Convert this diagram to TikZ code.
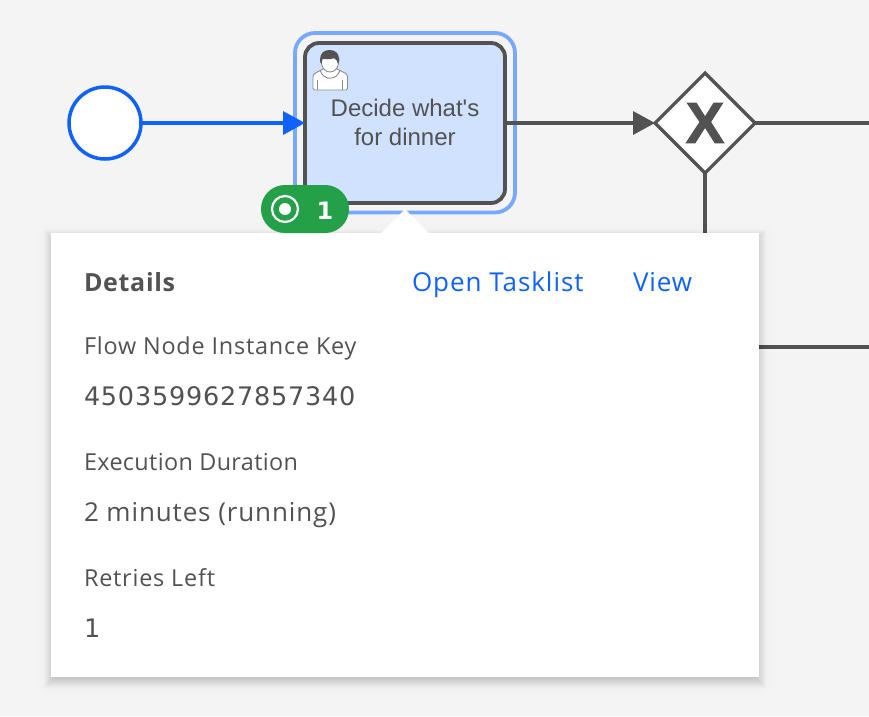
\documentclass[tikz,border=0pt]{standalone}
\usepackage{fontspec}
\usetikzlibrary{arrows.meta,shapes.geometric}
\setmainfont{Open Sans}
\newfontfamily\taskfont{Liberation Sans}
\newfontfamily\gatefont{Liberation Sans}[BoldFeatures={FakeBold=1.6}]
\newfontfamily\uifont[LetterSpace=3.4]{Open Sans}
\newfontfamily\uitight[LetterSpace=1.5]{Open Sans}
\newfontfamily\uilink[LetterSpace=3.7]{Open Sans}
\newfontfamily\uinum[LetterSpace=3.1]{DejaVu Sans}
\newfontfamily\uibold[LetterSpace=2.8]{Open Sans}
\newfontfamily\badgefont{DejaVu Sans}
\definecolor{bgc}{HTML}{F4F4F4}
\definecolor{ink}{HTML}{525252}
\definecolor{flowblue}{HTML}{0F62FE}
\definecolor{selblue}{HTML}{78A9FF}
\definecolor{taskfill}{HTML}{D0E2FF}
\definecolor{okgreen}{HTML}{24A148}
\tikzset{
  x=1pt,y=-1pt,
  flow/.style={draw=ink,line width=3.5pt},
  flowarrow/.style={flow,-{Triangle[length=22pt,width=23pt]}},
  activeflow/.style={draw=flowblue,line width=3.5pt,-{Triangle[length=22pt,width=23pt]}},
  ui/.style={anchor=base west,inner sep=0pt,outer sep=0pt,text=ink,font=\uifont\fontsize{23.4}{28}\selectfont},
  uival/.style={ui,font=\uifont\fontsize{26}{30}\selectfont},
  uidigits/.style={ui,font=\uinum\fontsize{25.5}{30}\selectfont},
  link/.style={ui,text=flowblue,font=\uilink\fontsize{26}{30}\selectfont},
  iconline/.style={draw=black!45,line width=.9pt},
}
\begin{document}
\begin{tikzpicture}
\useasboundingbox (0,0) rectangle (869,716);
\fill[bgc] (0,0) rectangle (869,716);
\coordinate (rightA) at (869,123);
\coordinate (rightB) at (869,347);
\coordinate (lowA) at (759,347);
\coordinate (gateDown) at (705,240);
% diagram
\node[circle,draw=flowblue,fill=white,line width=3.5pt,minimum size=72pt,inner sep=0pt,outer sep=0pt] (start) at (105,123) {};
\draw[draw=selblue,line width=3.8pt,rounded corners=20pt] (295,33) rectangle (515,212.5);
\node[rectangle,rounded corners=14pt,draw=ink,fill=taskfill,line width=3.8pt,minimum width=200pt,minimum height=160pt,inner sep=0pt,outer sep=0pt] (task) at (405,123) {};
\node[anchor=base,inner sep=0pt,text=ink,font=\taskfont\fontsize{24}{28}\selectfont] (tasklabelA) at (405,116) {Decide what's};
\node[anchor=base,inner sep=0pt,text=ink,font=\taskfont\fontsize{24}{28}\selectfont] (tasklabelB) at (405,145) {for dinner};
% user icon
\draw[iconline,fill=white,rounded corners=1.5pt] (313,90) -- (313,78) .. controls (313,73) and (318,72) .. (325,68) -- (335,68) .. controls (342,72) and (347.5,73) .. (347.5,78) -- (347.5,90) -- cycle;
\draw[iconline] (317.5,90) -- (317.5,80) (342,90) -- (342,80);
\draw[iconline] (320,70) .. controls (323,81) and (337,81) .. (340,70);
\draw[iconline,fill=white] (321,58) .. controls (321,68) and (325,72) .. (330,72) .. controls (335,72) and (339,68) .. (339,58) -- cycle;
\fill[ink] (320,60) .. controls (320,53) and (324,50) .. (329.5,50) .. controls (335,50) and (339,53) .. (339,59) .. controls (339,61) and (338.5,63) .. (338,64) .. controls (337.5,61) and (336,59) .. (334,58) .. controls (330,60) and (325,59) .. (322.5,59) .. controls (322,61) and (322,62) .. (321.5,64) .. controls (320.5,63) and (320,62) .. (320,60) -- cycle;
% gateway
\node[diamond,aspect=1,draw=ink,fill=white,line width=3.2pt,minimum size=100pt,inner sep=0pt,outer sep=0pt] (gate) at (705,123) {};
\node[inner sep=0pt,text=ink,font=\gatefont\bfseries\fontsize{58}{58}\selectfont] (gatex) at (705,123) {X};
% connectors
\draw[activeflow] (start) -- (task);
\draw[flowarrow] (task.east) -- (gate.west);
\draw[flow] (gate.east) -- (rightA);
\draw[flow] (gate.south) -- (gateDown);
\draw[flow] (lowA) -- (rightB);
% popover shadow
\foreach \g in {-4,-3,...,7}{
  \fill[black,opacity=.014] (51-\g,233-\g+4) rectangle (759+\g,677+\g+4);
}
\foreach \g in {9,12,15}{
  \fill[black,opacity=.005,rounded corners=\g pt] (51-\g,233-\g+4) rectangle (759+\g,677+\g+4);
}
\node[rectangle,fill=white,minimum width=708pt,minimum height=444pt,inner sep=0pt,outer sep=0pt] (popover) at (405,455) {};
\fill[white] (380,234) -- (405,209) -- (430,234) -- cycle;
% badge
\node[rectangle,rounded corners=23.9pt,fill=okgreen,minimum width=88pt,minimum height=48pt,inner sep=0pt,outer sep=0pt] (badge) at (305,209) {};
\node[circle,draw=white,line width=2.2pt,minimum size=26pt,inner sep=0pt] (ring) at (285,209) {};
\node[circle,fill=white,minimum size=12pt,inner sep=0pt] (dot) at (285,209) {};
\node[anchor=base,inner sep=0pt,text=white,font=\badgefont\bfseries\fontsize{24}{28}\selectfont] (badgecount) at (325,219) {1};
% popover text
\node[ui,font=\uibold\bfseries\fontsize{25}{28}\selectfont] (details) at (84,291) {Details};
\node[link] (open) at (412,291.5) {Open Tasklist};
\node[link] (view) at (633,291.5) {View};
\node[ui] (keyL) at (84,354) {Flow Node Instance Key};
\node[uidigits] (keyV) at (84,405) {4503599627857340};
\node[ui,font=\uitight\fontsize{23.4}{28}\selectfont] (durL) at (84,470) {Execution Duration};
\node[uival] (durV) at (84,521) {2 minutes (running)};
\node[ui] (retL) at (84,586) {Retries Left};
\node[uidigits] (retV) at (84,637) {1};
\end{tikzpicture}
\end{document}
